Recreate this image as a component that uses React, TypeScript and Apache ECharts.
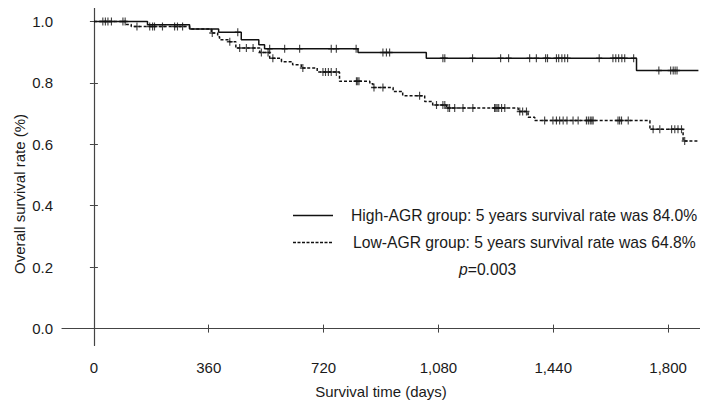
import React, { useEffect, useRef } from "react";
import * as echarts from "echarts";

const xTicks = [0, 360, 720, 1080, 1440, 1800];
const yTicks = [0, 0.2, 0.4, 0.6, 0.8, 1.0];

const highEventDays = [0, 168, 300, 391, 462, 517, 535, 828, 1042, 1701];
const highSurv = [1.0, 0.989, 0.975, 0.965, 0.94, 0.924, 0.911, 0.899, 0.88, 0.84];
const highEnd = 1895;
const highCensorDays = [
  28, 44, 91, 451, 551, 598, 645, 744, 760, 822, 906, 917, 927, 1094, 1100, 1187, 1275, 1300,
  1366, 1387, 1416, 1422, 1450, 1457, 1467, 1476, 1485, 1584, 1627, 1636, 1645, 1655, 1664,
  1692, 1771, 1808, 1816, 1822, 1828,
];

const lowEventDays = [
  0, 102, 117, 300, 368, 388, 394, 425, 445, 520, 551, 588, 623, 650, 700, 770, 865, 875, 938,
  968, 1037, 1062, 1105, 1330, 1361, 1382, 1743, 1847,
];
const lowSurv = [
  1.0, 0.99, 0.983, 0.975, 0.962, 0.95, 0.94, 0.934, 0.913, 0.899, 0.88, 0.869, 0.859, 0.848,
  0.835, 0.805, 0.797, 0.785, 0.772, 0.758, 0.739, 0.728, 0.718, 0.707, 0.688, 0.677, 0.649,
  0.611,
];
const lowEnd = 1895;
const lowCensorDays = [
  36, 55, 98, 135, 175, 184, 190, 215, 253, 262, 278, 371, 426, 457, 478, 499, 525, 546, 561,
  655, 718, 726, 735, 744, 760, 823, 827, 831, 878, 906, 1021, 1074, 1094, 1100, 1110, 1115,
  1131, 1157, 1188, 1256, 1260, 1264, 1269, 1278, 1288, 1335, 1344, 1356, 1413, 1439, 1450,
  1460, 1471, 1483, 1502, 1518, 1544, 1550, 1556, 1561, 1565, 1643, 1648, 1654, 1675, 1753,
  1774, 1811, 1821, 1831, 1842, 1852,
];

const FONT = "'Liberation Sans', Arial, sans-serif";
const INK = "#111";
const AXIS = "#444";
const TXT = "#1a1a1a";

function survAt(days: number[], surv: number[], t: number) {
  let v = surv[0];
  for (let i = 0; i < days.length; i++) if (days[i] <= t) v = surv[i];
  return v;
}

function stepData(days: number[], surv: number[], end: number) {
  const d = days.map((t, i) => [t, surv[i]]);
  d.push([end, surv[surv.length - 1]]);
  return d;
}

const PLUS = "path://M3,0 L3,8 M0,4 L6,4";

export default function App() {
  const ref = useRef<HTMLDivElement>(null);
  useEffect(() => {
    if (!ref.current) return;
    const chart = echarts.init(ref.current, undefined, { renderer: "svg" });
    const xBase = {
      type: "value",
      min: -100,
      max: 1900,
      gridIndex: 0,
      splitLine: { show: false },
    };
    const yBase = {
      type: "value",
      min: -0.055,
      max: 1.055,
      gridIndex: 0,
      splitLine: { show: false },
    };
    chart.setOption({
      animation: false,
      grid: { left: 62, right: 8, top: 4.5, bottom: 63.5, containLabel: false },
      xAxis: [
        {
          ...xBase,
          position: "bottom",
          axisLine: { show: true, lineStyle: { color: AXIS, width: 1.2 } },
          axisTick: { show: true, inside: false, length: 4, customValues: xTicks, lineStyle: { color: AXIS } },
          axisLabel: {
            show: true,
            customValues: xTicks,
            margin: 14,
            fontSize: 15,
            fontFamily: FONT,
            color: TXT,
            formatter: (v: number) => v.toLocaleString("en-US"),
          },
        },
        {
          ...xBase,
          position: "bottom",
          axisLine: { show: false },
          axisTick: { show: true, inside: true, length: 4, customValues: xTicks, lineStyle: { color: AXIS } },
          axisLabel: { show: false },
        },
      ],
      yAxis: [
        {
          ...yBase,
          position: "left",
          axisLine: { show: true, lineStyle: { color: AXIS, width: 1.2 } },
          axisTick: { show: true, inside: false, length: 4, customValues: yTicks, lineStyle: { color: AXIS } },
          axisLabel: {
            show: true,
            customValues: yTicks,
            margin: 9,
            fontSize: 15,
            fontFamily: FONT,
            color: TXT,
            formatter: (v: number) => v.toFixed(1),
          },
        },
        {
          ...yBase,
          position: "left",
          axisLine: { show: false },
          axisTick: { show: true, inside: true, length: 4, customValues: yTicks, lineStyle: { color: AXIS } },
          axisLabel: { show: false },
        },
      ],
      series: [
        {
          type: "line",
          step: "end",
          data: stepData(highEventDays, highSurv, highEnd),
          symbol: "none",
          lineStyle: { color: INK, width: 1.5 },
          z: 3,
        },
        {
          type: "line",
          step: "end",
          data: stepData(lowEventDays, lowSurv, lowEnd),
          symbol: "none",
          lineStyle: { color: INK, width: 1.5, type: [3, 2] },
          z: 3,
        },
        {
          type: "scatter",
          data: highCensorDays.map((t) => [t, survAt(highEventDays, highSurv, t)]),
          symbol: PLUS,
          symbolSize: [6, 8],
          itemStyle: { color: "none", borderColor: INK, borderWidth: 1.3 },
          z: 4,
        },
        {
          type: "scatter",
          data: lowCensorDays.map((t) => [t, survAt(lowEventDays, lowSurv, t)]),
          symbol: PLUS,
          symbolSize: [6, 8],
          itemStyle: { color: "none", borderColor: INK, borderWidth: 1.3 },
          z: 4,
        },
      ],
      graphic: [
        {
          type: "text",
          x: 19,
          y: 194,
          rotation: Math.PI / 2,
          style: {
            text: "Overall survival rate (%)",
            fontSize: 15,
            fontFamily: FONT,
            fill: TXT,
            align: "center",
            verticalAlign: "middle",
          },
        },
        {
          type: "text",
          x: 381,
          y: 391,
          style: {
            text: "Survival time (days)",
            fontSize: 15,
            fontFamily: FONT,
            fill: TXT,
            align: "center",
            verticalAlign: "middle",
          },
        },
        {
          type: "line",
          shape: { x1: 293, y1: 215.5, x2: 333, y2: 215.5 },
          style: { stroke: INK, lineWidth: 1.6 },
        },
        {
          type: "line",
          shape: { x1: 293, y1: 242.5, x2: 333, y2: 242.5 },
          style: { stroke: INK, lineWidth: 1.6, lineDash: [3, 1.5] },
        },
        {
          type: "text",
          x: 351,
          y: 215,
          style: {
            text: "High-AGR group: 5 years survival rate was 84.0%",
            fontSize: 15.7,
            fontFamily: FONT,
            fill: TXT,
            align: "left",
            verticalAlign: "middle",
          },
        },
        {
          type: "text",
          x: 353,
          y: 242,
          style: {
            text: "Low-AGR group: 5 years survival rate was 64.8%",
            fontSize: 15.7,
            fontFamily: FONT,
            fill: TXT,
            align: "left",
            verticalAlign: "middle",
          },
        },
        {
          type: "text",
          x: 459,
          y: 269,
          style: {
            text: "{i|p}=0.003",
            fontSize: 15.7,
            fontFamily: FONT,
            fill: TXT,
            align: "left",
            verticalAlign: "middle",
            rich: {
              i: { fontStyle: "italic", fontSize: 15.7, fontFamily: FONT, fill: TXT },
            },
          },
        },
      ],
    });
    return () => chart.dispose();
  }, []);
  return <div ref={ref} style={{ width: 708, height: 409, margin: -8 }} />;
}
